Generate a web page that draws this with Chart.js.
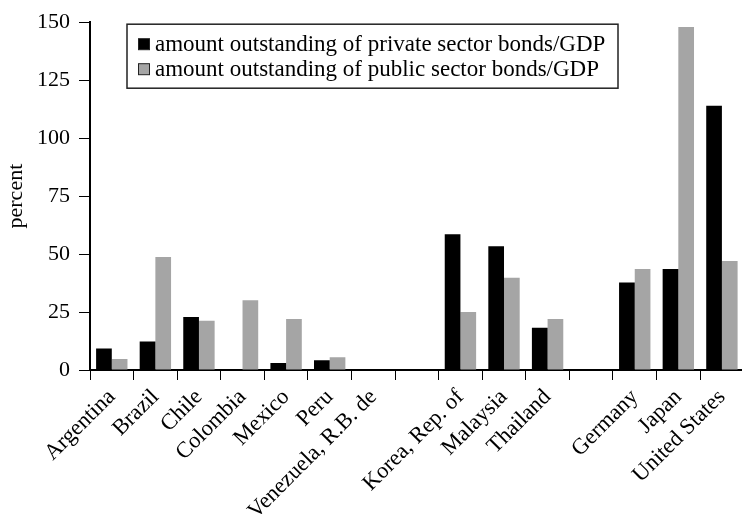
<!DOCTYPE html>
<html>
<head>
<meta charset="utf-8">
<script src="https://cdn.jsdelivr.net/npm/chart.js@4.4.1/dist/chart.umd.min.js"></script>
<style>
    html, body { margin: 0; padding: 0; background: #fff; overflow: hidden; }
    #wrap { width: 745px; height: 522px; }
</style>
</head>
<body>
<div id="wrap"><canvas id="bondChart"></canvas></div>
<script>
// categories (empty strings are the spacer slots between country groups)
const countries = [
    'Argentina', 'Brazil', 'Chile', 'Colombia', 'Mexico', 'Peru', 'Venezuela, R.B. de',
    '',
    'Korea, Rep. of', 'Malaysia', 'Thailand',
    '',
    'Germany', 'Japan', 'United States'
];
const privateBonds = [9.3, 12.3, 22.9, 0, 3.0, 4.2, 0, null, 58.5, 53.4, 18.2, null, 37.7, 43.6, 114];
const publicBonds = [4.7, 48.7, 21.2, 30.1, 22.0, 5.5, 0, null, 25.0, 39.8, 22.0, null, 43.6, 147.9, 47.0];
const yTicks = [0, 25, 50, 75, 100, 125, 150];

const serif = "'Liberation Serif', 'Times New Roman', serif";
Chart.defaults.font.family = serif;
Chart.defaults.color = '#000';

// boxed legend drawn inside the plot area, top left
const legendBox = {
    id: 'legendBox',
    afterDraw(chart) {
        const ctx = chart.ctx;
        const area = chart.chartArea;
        const x = area.left + 37, y = area.top + 2;
        const w = 491, h = 64;
        ctx.save();
        ctx.fillStyle = '#fff';
        ctx.fillRect(x, y, w, h);
        ctx.strokeStyle = '#222';
        ctx.lineWidth = 1.5;
        ctx.strokeRect(x, y, w, h);
        ctx.font = '23px ' + serif;
        ctx.textBaseline = 'middle';
        chart.data.datasets.forEach((ds, i) => {
            const cy = y + 20 + i * 25;
            ctx.fillStyle = ds.backgroundColor;
            ctx.fillRect(x + 11.5, cy - 5.5, 11, 11);
            ctx.strokeStyle = '#222';
            ctx.lineWidth = 1;
            ctx.strokeRect(x + 11.5, cy - 5.5, 11, 11);
            ctx.fillStyle = '#000';
            ctx.fillText(ds.label, x + 28, cy + 1);
        });
        ctx.restore();
    }
};

new Chart(document.getElementById('bondChart'), {
    type: 'bar',
    data: {
        labels: countries,
        datasets: [
            {
                label: 'amount outstanding of private sector bonds/GDP',
                data: privateBonds,
                backgroundColor: '#000000'
            },
            {
                label: 'amount outstanding of public sector bonds/GDP',
                data: publicBonds,
                backgroundColor: '#a5a5a5'
            }
        ]
    },
    options: {
        responsive: true,
        maintainAspectRatio: false,
        animation: false,
        layout: { padding: { top: 16, right: 0, bottom: 0, left: 0 } },
        datasets: {
            bar: { categoryPercentage: 0.72, barPercentage: 1.0 }
        },
        plugins: {
            legend: { display: false },
            tooltip: { enabled: false }
        },
        scales: {
            x: {
                grid: {
                    offset: true,
                    drawOnChartArea: false,
                    tickLength: 10,
                    color: '#000',
                    lineWidth: 1
                },
                border: { color: '#000', width: 2 },
                ticks: {
                    autoSkip: false,
                    maxRotation: 45,
                    minRotation: 45,
                    padding: 4,
                    font: { size: 22.5 }
                },
                afterFit(scale) { scale.height = 152; }
            },
            y: {
                min: 0,
                max: 150,
                afterBuildTicks(scale) {
                    scale.ticks = yTicks.map(v => ({ value: v }));
                },
                grid: {
                    drawOnChartArea: false,
                    tickLength: 11,
                    color: '#000',
                    lineWidth: 1
                },
                border: { color: '#000', width: 2 },
                ticks: {
                    padding: 9,
                    font: { size: 22 }
                },
                title: {
                    display: true,
                    text: 'percent',
                    font: { size: 22 },
                    padding: { top: 3, bottom: 0 }
                },
                afterFit(scale) { scale.width = 90; }
            }
        }
    },
    plugins: [legendBox]
});
</script>
</body>
</html>
